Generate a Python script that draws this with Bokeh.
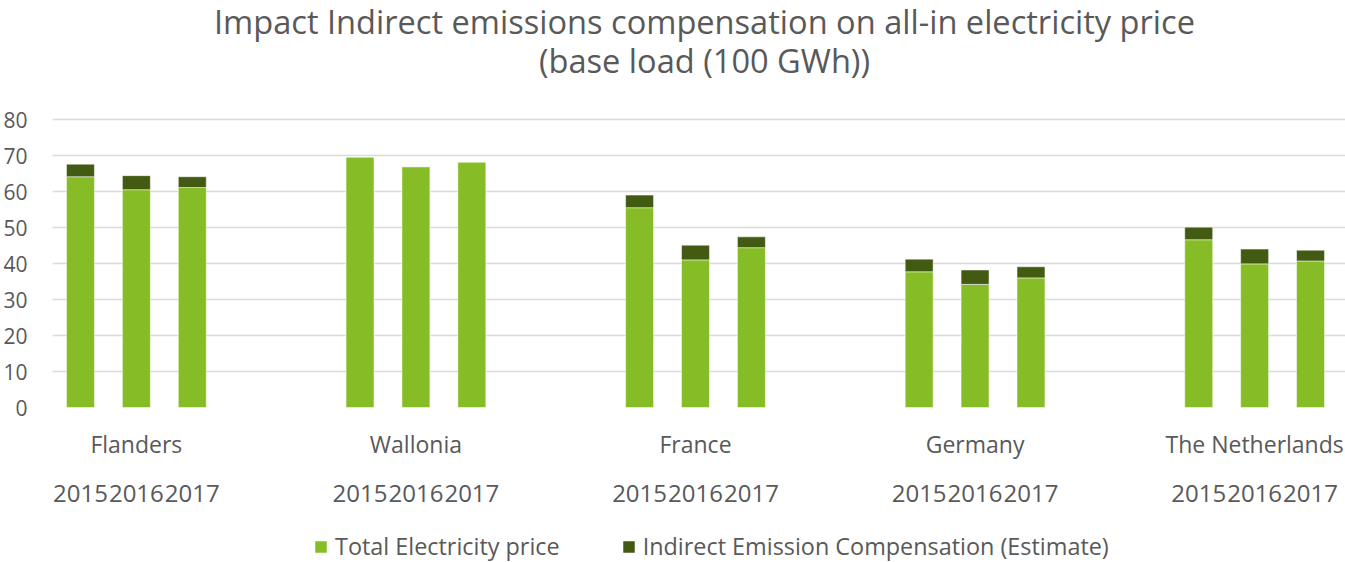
from bokeh.plotting import figure
from bokeh.models import (ColumnDataSource, FixedTicker, Legend,
                          LegendItem, Label, Range1d)
from bokeh.core.properties import value
from bokeh.embed import file_html
from bokeh.resources import INLINE

# ---------------- data ----------------
countries = ["Flanders", "Wallonia", "France", "Germany", "The Netherlands"]
years = ["2015", "2016", "2017"]
total_price = [64.1, 60.5, 61.1,
               69.6, 66.9, 68.2,
               55.5, 41.0, 44.4,
               37.7, 34.2, 36.0,
               46.6, 39.9, 40.7]
compensation = [3.5, 3.9, 3.0,
                0.0, 0.0, 0.0,
                3.5, 4.1, 3.0,
                3.5, 4.0, 3.1,
                3.5, 4.1, 3.0]
y_ticks = [0, 10, 20, 30, 40, 50, 60, 70, 80]
series_names = ["Total Electricity price", "Indirect Emission Compensation (Estimate)"]
title_lines = ["Impact Indirect emissions compensation on all-in electricity price",
               "(base load (100 GWh))"]

# ---------------- layout of categories ----------------
GAP = 2  # empty category slots between country groups
x_pos, year_lab = [], []
group_centers = []
for g in range(len(countries)):
    base = g * (len(years) + GAP)
    for j in range(len(years)):
        x_pos.append(base + j + 0.5)
        year_lab.append(years[j])
    group_centers.append(base + (len(years)) / 2.0)
n_slots = len(countries) * len(years) + (len(countries) - 1) * GAP

source = ColumnDataSource(dict(x=x_pos, total=total_price, comp=compensation))

LIGHT = "#86bc25"
DARK = "#435a13"
TXT = "#595959"
FONT = "Open Sans"

# frame covers the whole canvas height; value axis 0..80 spans 288 px
PX_PER_UNIT = 288 / y_ticks[-1]
TOP_SPACE = 119      # px above the 80 line (titles)
BOTTOM_SPACE = 155   # px below the 0 line (category labels, legend)
FH = TOP_SPACE + 288 + BOTTOM_SPACE
PLOT_W = 1286        # width of the category area
RIGHT_SPACE = 7      # room for the last category label
FW = PLOT_W + RIGHT_SPACE
PX_PER_SLOT = PLOT_W / n_slots
y_hi = y_ticks[-1] + TOP_SPACE / PX_PER_UNIT
y_lo = -BOTTOM_SPACE / PX_PER_UNIT

p = figure(frame_width=FW, frame_height=FH,
           x_range=Range1d(0, n_slots + RIGHT_SPACE / PX_PER_SLOT),
           y_range=Range1d(y_lo, y_hi),
           output_backend="svg", toolbar_location=None,
           x_axis_location=None,
           min_border_left=52, min_border_right=0,
           min_border_top=0, min_border_bottom=0,
           outline_line_color=None, background_fill_color="white")

renderers = p.vbar_stack(["total", "comp"], x="x", width=0.5, source=source,
                         color=[LIGHT, DARK], line_color="white", line_alpha=0.5,
                         line_width=1)

p.xgrid.visible = False

# y axis
ya = p.yaxis[0]
ya.ticker = FixedTicker(ticks=y_ticks)
ya.axis_line_color = None
ya.major_tick_line_color = None
ya.minor_tick_line_color = None
ya.major_tick_out = 0
ya.major_tick_in = 0
ya.major_label_standoff = 25
ya.major_label_text_font = FONT
ya.major_label_text_font_size = "21px"
ya.major_label_text_color = TXT

p.ygrid.ticker = FixedTicker(ticks=y_ticks[1:])
p.ygrid.grid_line_color = "#d9d9d9"
p.ygrid.grid_line_width = 1.5

# category labels (two levels) placed through the data scales below the 0 line
country_y = -36 / PX_PER_UNIT
year_y = -86 / PX_PER_UNIT
p.text(x=group_centers, y=[country_y] * len(countries), text=countries,
       text_align="center", text_baseline="middle", text_font=value(FONT),
       text_font_size="23px", text_color=TXT)
p.text(x=x_pos, y=[year_y] * len(x_pos), text=year_lab,
       text_align="center", text_baseline="middle", text_font=value(FONT),
       text_font_size="24px", text_color=TXT)

# legend (screen px relative to frame bottom-left)
legend = Legend(items=[LegendItem(label=series_names[0], renderers=[renderers[0]]),
                       LegendItem(label=series_names[1], renderers=[renderers[1]])],
                orientation="horizontal", location=(261, 0),
                label_text_font=FONT, label_text_font_size="23.4px",
                label_text_color=TXT, glyph_width=15, glyph_height=15,
                label_standoff=7, spacing=61, padding=0, margin=0,
                border_line_color=None, background_fill_alpha=0)
p.add_layout(legend, "center")

# two-line title (screen px relative to frame bottom-left)
for txt, yc in zip(title_lines, (FH - 21, FH - 60)):
    p.add_layout(Label(x=652, y=yc, x_units="screen", y_units="screen",
                       text=txt, text_align="center", text_baseline="middle",
                       text_font=FONT, text_font_size="32.6px", text_color=TXT))

open("out.html", "w").write(file_html(p, INLINE))
